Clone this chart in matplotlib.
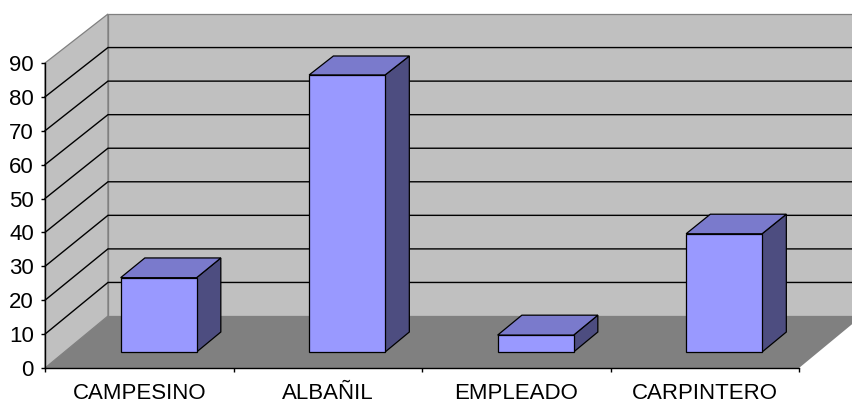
import matplotlib
matplotlib.use("Agg")
import matplotlib.pyplot as plt
from matplotlib.patches import Polygon

# Data
categories = ["CAMPESINO", "ALBAÑIL", "EMPLEADO", "CARPINTERO"]
values = [22, 82, 5, 35]
y_ticks = [0, 10, 20, 30, 40, 50, 60, 70, 80, 90]

# Pseudo-3D geometry (data units)
DX = 0.334      # horizontal shift for full depth (category units)
DY = 15.34      # vertical shift for full depth (value units)
SHRINK = 0.0098  # slight perspective shrink toward the back wall
BAR_W = 0.403
D0, D1 = 0.3075, 0.6925
YMAX = 90

WALL = "#C0C0C0"
FLOOR = "#808080"
EDGE = "#808080"
FRONT = "#9999FF"
TOP = "#7A7ACC"
SIDE = "#4D4D80"

plt.rcParams["font.family"] = ["Liberation Sans", "DejaVu Sans"]

fig = plt.figure(figsize=(8.52, 4.03), dpi=100)
ax = fig.add_axes([45 / 852, 35 / 403, 754 / 852, 305 / 403])
ax.set_xlim(-0.5, len(categories) - 0.5)
ax.set_ylim(0, YMAX)
ax.patch.set_visible(False)


def proj(x, v, d):
    return (x + d * DX, v * (1 - SHRINK * d) + d * DY)


def face(pts, color, edge="black", lw=0.9, z=1):
    poly = Polygon([proj(*p) for p in pts], closed=True, facecolor=color,
                   edgecolor=edge, linewidth=lw, clip_on=False, zorder=z,
                   joinstyle="miter")
    ax.add_patch(poly)


x_left = -0.5
x_right = len(categories) - 0.5

# Walls and floor
face([(x_left, 0, 0), (x_left, YMAX, 0), (x_left, YMAX, 1), (x_left, 0, 1)],
     WALL, edge=EDGE, lw=0.9, z=0.5)
face([(x_left, 0, 1), (x_right, 0, 1), (x_right, YMAX, 1), (x_left, YMAX, 1)],
     WALL, edge=EDGE, lw=0.9, z=0.5)
face([(x_left, 0, 0), (x_right, 0, 0), (x_right, 0, 1), (x_left, 0, 1)],
     FLOOR, edge="none", lw=0, z=0.6)

# Gridlines on the side wall and back wall
for v in y_ticks[1:-1]:
    a = proj(x_left, v, 0)
    b = proj(x_left, v, 1)
    c = proj(x_right, v, 1)
    ax.plot([a[0], b[0], c[0]], [a[1], b[1], c[1]], color="black",
            lw=1.0, clip_on=False, zorder=0.8, solid_joinstyle="miter")

# Bars
for i, v in enumerate(values):
    x0, x1 = i - BAR_W / 2, i + BAR_W / 2
    face([(x1, 0, D0), (x1, 0, D1), (x1, v, D1), (x1, v, D0)], SIDE, z=2)
    face([(x0, v, D0), (x1, v, D0), (x1, v, D1), (x0, v, D1)], TOP, z=2)
    face([(x0, 0, D0), (x1, 0, D0), (x1, v, D0), (x0, v, D0)], FRONT, z=2)

# Axes styling
for s in ("top", "right"):
    ax.spines[s].set_visible(False)
for s in ("left", "bottom"):
    ax.spines[s].set_color("black")
    ax.spines[s].set_linewidth(1.0)
    ax.spines[s].set_zorder(3)

ax.set_yticks(y_ticks)
ax.set_yticklabels([str(t) for t in y_ticks])
ax.tick_params(axis="y", direction="out", length=3, width=1.0, pad=5,
               labelsize=16, colors="black")

ax.set_xticks([k - 0.5 for k in range(len(categories) + 1)])
ax.set_xticklabels([""] * (len(categories) + 1))
ax.set_xticks(range(len(categories)), minor=True)
ax.set_xticklabels(categories, minor=True)
ax.tick_params(axis="x", which="major", direction="out", length=3, width=1.0)
ax.tick_params(axis="x", which="minor", length=0, pad=10.8, labelsize=16,
               colors="black")

fig.savefig("out.png", dpi=100, facecolor="white")
